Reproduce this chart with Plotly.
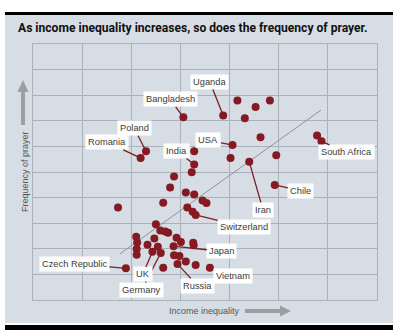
import plotly.graph_objects as go

# Countries: income inequality (x) vs frequency of prayer (y), arbitrary index units
ineq = [3.06, 2.30, 2.19, 3.28, 3.28, 3.23, 2.87, 2.79, 3.87, 4.16,
        4.53, 4.82, 4.31, 4.63, 4.06, 4.02, 4.40, 4.95, 5.78, 5.87,
        4.92, 3.11, 3.28, 3.45, 3.53, 2.65, 1.73, 3.14, 3.25, 3.31,
        2.50, 2.59, 2.69, 2.75, 2.10, 2.12, 2.47, 2.92, 3.01, 3.26,
        3.27, 2.33, 2.11, 2.54, 2.86, 2.11, 2.43, 2.60, 2.87, 2.98,
        3.11, 2.94, 3.31, 3.60, 2.65, 1.89]
prayer = [7.14, 5.81, 5.55, 5.81, 5.29, 4.99, 4.82, 4.39, 7.21, 7.79,
          7.54, 7.79, 7.10, 6.36, 6.05, 5.55, 5.40, 5.65, 6.43, 6.20,
          4.49, 4.20, 4.12, 3.89, 3.79, 3.80, 3.61, 3.61, 3.45, 3.32,
          2.96, 2.71, 2.68, 2.63, 2.47, 2.25, 2.40, 2.43, 2.27, 2.24,
          2.14, 2.16, 1.99, 2.08, 2.10, 1.77, 1.88, 1.84, 1.75, 1.72,
          1.50, 1.41, 1.37, 1.26, 1.26, 1.24]

# Named countries: index into the series above, and where the label sits
label_names = ["Uganda", "Bangladesh", "Poland", "Romania", "India", "USA",
               "South Africa", "Iran", "Chile", "Switzerland", "Japan",
               "Vietnam", "Russia", "Germany", "UK", "Czech Republic"]
label_point = [8, 0, 1, 2, 4, 14, 19, 16, 20, 29, 44, 53, 51, 47, 46, 55]
label_x = [3.60, 2.79, 2.06, 1.51, 2.93, 3.57, 6.38, 4.68, 5.45, 4.30,
           3.84, 4.06, 3.35, 2.21, 2.23, 0.84]
label_y = [8.52, 7.84, 6.71, 6.16, 5.82, 6.24, 5.77, 3.52, 4.27, 2.86,
           1.90, 0.94, 0.55, 0.39, 1.00, 1.41]

# Trend line end points
trend_x = [1.77, 5.86]
trend_y = [1.80, 7.42]

W, H = 400, 333
L, R, T, B = 33, 377, 44, 300  # plot area in pixels


def px(x):
    return (x - L) / (R - L)


def py(y):
    return (B - y) / (B - T)


DOT = "#861a22"
PANEL = "#d7dde4"
GRID = "#a9b1b9"
ARROW = "#9c9ea1"
LABEL_FONT = "Liberation Sans"

fig = go.Figure()

fig.add_trace(go.Scatter(
    x=trend_x, y=trend_y, mode="lines",
    line=dict(color="#8b939b", width=1), hoverinfo="skip", showlegend=False))

fig.add_trace(go.Scatter(
    x=ineq, y=prayer, mode="markers",
    marker=dict(color=DOT, size=8, line=dict(width=0)),
    showlegend=False))

annotations = []
for name, i, lx, ly in zip(label_names, label_point, label_x, label_y):
    annotations.append(dict(
        x=ineq[i], y=prayer[i], xref="x", yref="y",
        ax=lx, ay=ly, axref="x", ayref="y",
        text=name, showarrow=True, arrowhead=0, arrowwidth=1.3,
        arrowcolor="#7a1d24", standoff=2,
        bgcolor="white", borderpad=2,
        font=dict(family=LABEL_FONT, size=9.3, color="#3a3a3a")))

annotations += [
    dict(x=px(16), y=py(28), xref="paper", yref="paper",
         xanchor="left", yanchor="middle", showarrow=False,
         text="As income inequality increases, so does the frequency of prayer.",
         font=dict(family="Roboto", size=12.1, color="#111111", weight="bold")),
    dict(x=px(204), y=py(311), xref="paper", yref="paper",
         xanchor="center", yanchor="middle", showarrow=False,
         text="Income inequality",
         font=dict(family=LABEL_FONT, size=9, color="#555555")),
    dict(x=px(25), y=py(172), xref="paper", yref="paper",
         xanchor="center", yanchor="middle", showarrow=False, textangle=-90,
         text="Frequency of prayer",
         font=dict(family=LABEL_FONT, size=9, color="#555555")),
]

shapes = [
    # panel background
    dict(type="rect", xref="paper", yref="paper", layer="below",
         x0=px(5), x1=px(393), y0=py(323), y1=py(15),
         fillcolor=PANEL, line=dict(width=0)),
    # black rules top and bottom
    dict(type="rect", xref="paper", yref="paper",
         x0=px(5), x1=px(393), y0=py(15), y1=py(12),
         fillcolor="black", line=dict(width=0)),
    dict(type="rect", xref="paper", yref="paper",
         x0=px(5), x1=px(393), y0=py(330), y1=py(325),
         fillcolor="black", line=dict(width=0)),
    # x-axis arrow
    dict(type="line", xref="paper", yref="paper",
         x0=px(245), x1=px(282), y0=py(311), y1=py(311),
         line=dict(color=ARROW, width=4)),
    dict(type="path", xref="paper", yref="paper",
         path=f"M {px(280)},{py(305.5)} L {px(291)},{py(311)} L {px(280)},{py(316.5)} Z",
         fillcolor=ARROW, line=dict(width=0)),
    # y-axis arrow
    dict(type="line", xref="paper", yref="paper",
         x0=px(23), x1=px(23), y0=py(125), y1=py(90),
         line=dict(color=ARROW, width=4)),
    dict(type="path", xref="paper", yref="paper",
         path=f"M {px(17.5)},{py(92)} L {px(23)},{py(80)} L {px(28.5)},{py(92)} Z",
         fillcolor=ARROW, line=dict(width=0)),
]

axis_common = dict(showticklabels=False, ticks="", zeroline=False,
                   showgrid=True, gridcolor=GRID, gridwidth=1,
                   showline=True, linecolor=GRID, linewidth=1, mirror=True,
                   fixedrange=True)

fig.update_layout(
    width=W, height=H,
    margin=dict(l=L, r=W - R, t=T, b=H - B),
    paper_bgcolor="white", plot_bgcolor="rgba(0,0,0,0)",
    xaxis=dict(range=[0, 7], dtick=1, **axis_common),
    yaxis=dict(range=[0, 10], dtick=1, **axis_common),
    annotations=annotations, shapes=shapes,
)

fig.write_html("out.html")
